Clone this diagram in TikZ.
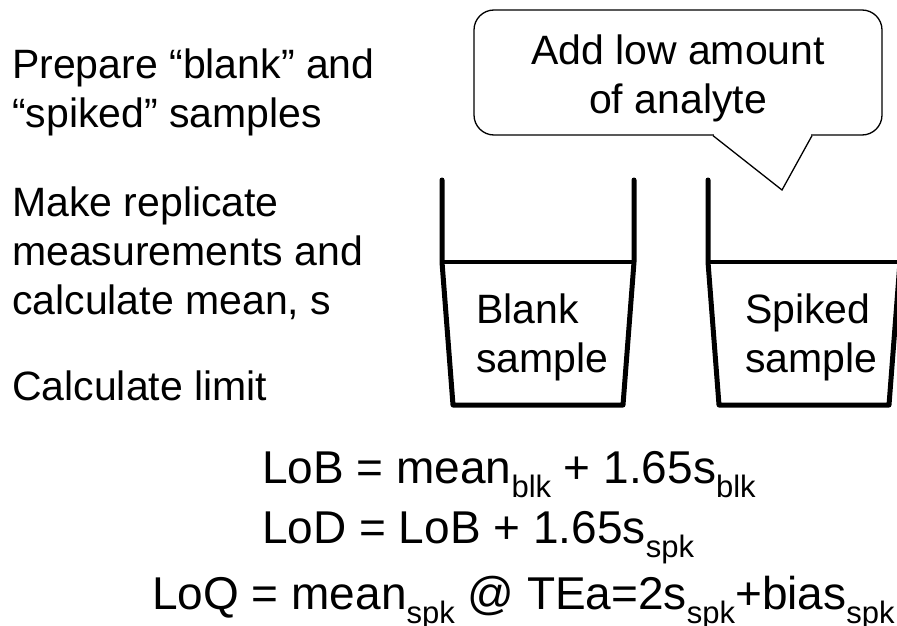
\documentclass[tikz,border=0pt]{standalone}
\usepackage{fontspec}
\setmainfont{Liberation Sans}
\usetikzlibrary{calc}

\newcommand{\lowsub}[1]{\raisebox{-14pt}{\fontsize{31}{31}\selectfont #1}}

\tikzset{
  bigtext/.style={font=\fontsize{41}{49}\selectfont, inner sep=0pt, align=left, anchor=base west},
  formula/.style={font=\fontsize{46}{49}\selectfont, inner sep=0pt, anchor=base west},
  callbox/.style={draw, line width=1.3pt, rounded corners=20pt, minimum width=408pt,
    minimum height=125pt, inner sep=0pt},
  wall/.style={line width=5pt, line join=round, line cap=round},
  level/.style={line width=4pt},
}

\begin{document}
\begin{tikzpicture}[x=1pt, y=-1pt]
  \useasboundingbox (0,0) rectangle (897,626);

  % Pasos
  \node[bigtext] (prep) at (12,127) {Prepare “blank” and\\“spiked” samples};
  \node[bigtext] (meas) at (12,314) {Make replicate\\measurements and\\calculate mean, s};
  \node[bigtext] (calc) at (12,400) {Calculate limit};

  % Globo
  \node[callbox] (note) at (678,72.5) {};
  \node[bigtext, align=center, anchor=base] (notetxt) at (678,113) {Add low amount\\of analyte};
  \coordinate (tip) at (782,190);
  \coordinate (pa) at ($(note.south)+(35,0)$);
  \coordinate (pb) at ($(note.south)+(134,0)$);
  \draw[white, line width=2.5pt] ([xshift=1pt]pa) -- ([xshift=-1pt]pb);
  \draw[line width=1.3pt, line join=miter] (pa) -- (tip) -- (pb);

  % Vasos
  \foreach \bx in {0,266}{
    \draw[wall] (442+\bx,180) -- (442+\bx,262) -- (453+\bx,405)
      -- (623+\bx,405) -- (634+\bx,262) -- (634+\bx,180);
    \draw[level] (442+\bx,262) -- (632+\bx,262);
  }
  \node[bigtext] (blank) at (476,372) {Blank\\sample};
  \node[bigtext] (spiked) at (745,372) {Spiked\\sample};

  % Limites
  \node[formula] (lob) at (262,483) {LoB = mean\lowsub{blk} + 1.65s\lowsub{blk}};
  \node[formula] (lod) at (262,543) {LoD = LoB + 1.65s\lowsub{spk}};
  \node[formula] (loq) at (152,609) {LoQ = mean\lowsub{spk} @ TEa=2s\lowsub{spk}+bias\lowsub{spk}};

\end{tikzpicture}
\end{document}
